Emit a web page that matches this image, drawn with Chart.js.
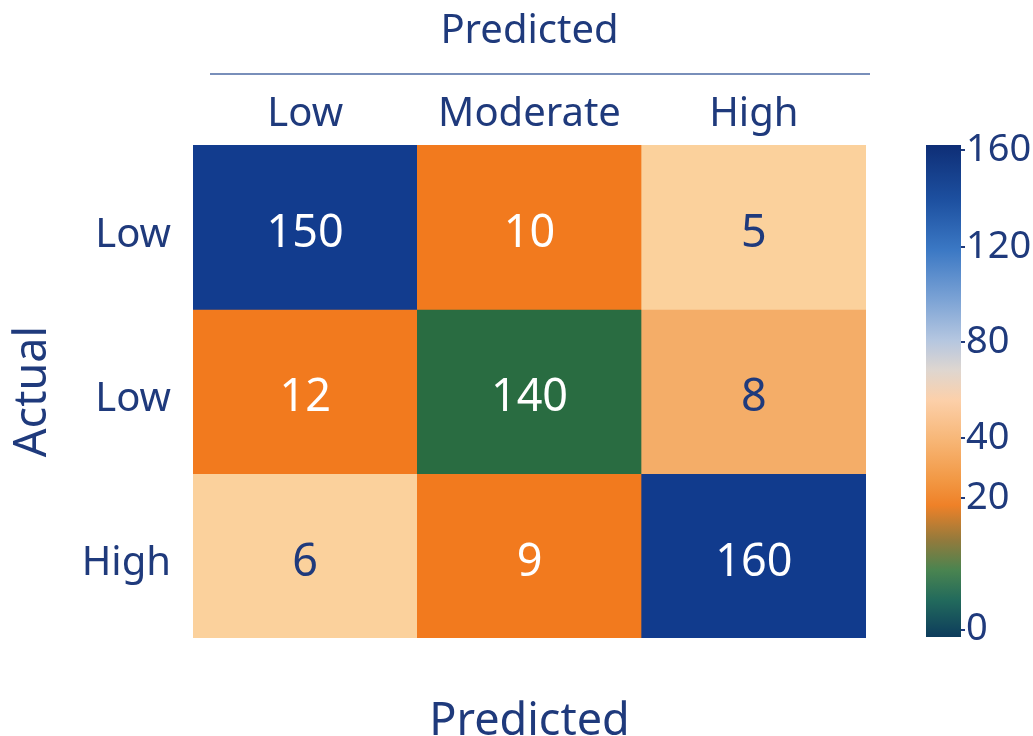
<!DOCTYPE html>
<html>
<head>
<meta charset="utf-8">
<script src="https://cdn.jsdelivr.net/npm/chart.js@4.4.1/dist/chart.umd.min.js"></script>
<style>
  html, body { margin: 0; padding: 0; background: #fff; }
  #wrap { position: relative; width: 1033px; height: 736px; }
  #main { position: absolute; left: 0; top: 0; }
  #cbar { position: absolute; left: 900px; top: 0; }
</style>
</head>
<body>
<div id="wrap">
  <canvas id="main" width="1033" height="736"></canvas>
  <canvas id="cbar" width="133" height="736"></canvas>
</div>
<script>
// confusion matrix data
const predictedLabels = ["Low", "Moderate", "High"];
const actualLabels = ["Low", "Low", "High"];
const row1 = [150, 10, 5];
const row2 = [12, 140, 8];
const row3 = [6, 9, 160];

// colorbar ticks
const cbarTicks = [0, 20, 40, 80, 120, 160];

// styles
const navy = "#1f3a7c";
const font = "'Noto Sans', 'Open Sans', sans-serif";
const cellColors = [
    ["#123c8e", "#f27a1e", "#fbd19c"],
    ["#f27a1e", "#296c41", "#f4ad68"],
    ["#fbd19c", "#f27a1e", "#113b8d"]
];
const darkText = [
    [false, false, true],
    [false, false, true],
    [true, false, false]
];
// where each colorbar tick sits along the bar (0 = bottom, 1 = top)
const cbarTickPos = [0.015, 0.283, 0.404, 0.6, 0.793, 0.99];
const cbarStops = [
    [0, "#0d3c5c"], [0.075, "#226a5c"], [0.136, "#4a8450"], [0.197, "#937a3c"],
    [0.268, "#ef8128"], [0.319, "#f29844"], [0.4, "#f7b676"], [0.482, "#fcd0aa"],
    [0.543, "#ded6d0"], [0.604, "#b4c6e0"], [0.685, "#7ca3d5"], [0.787, "#3b78c4"],
    [0.888, "#1d50a0"], [1, "#0e2e76"]
];

const rows = [row1, row2, row3];

const cellLabels = {
    id: "cellLabels",
    afterDatasetsDraw(chart) {
        const ctx = chart.ctx;
        ctx.save();
        ctx.font = "45px " + font;
        ctx.textAlign = "center";
        ctx.textBaseline = "middle";
        chart.data.datasets.forEach((ds, r) => {
            chart.getDatasetMeta(r).data.forEach((bar, c) => {
                const p = bar.getCenterPoint();
                ctx.fillStyle = darkText[r][c] ? navy : "#ffffff";
                ctx.fillText(String(rows[r][c]), p.x, p.y + 7);
            });
        });
        ctx.restore();
    }
};

const headerLine = {
    id: "headerLine",
    afterDraw(chart) {
        const ctx = chart.ctx;
        const y = chart.scales.x.top;
        ctx.save();
        ctx.strokeStyle = "#4d6aa3";
        ctx.lineWidth = 1.5;
        ctx.beginPath();
        ctx.moveTo(chart.chartArea.left + 17, y);
        ctx.lineTo(chart.chartArea.right + 4, y);
        ctx.stroke();
        ctx.restore();
    }
};

new Chart(document.getElementById("main"), {
    type: "bar",
    data: {
        labels: predictedLabels,
        datasets: rows.map((row, r) => ({
            label: actualLabels[r],
            data: row.map(() => 1),
            backgroundColor: cellColors[r],
            borderWidth: 0,
            barPercentage: 1,
            categoryPercentage: 1
        }))
    },
    options: {
        responsive: false,
        animation: false,
        layout: { padding: { left: 0, right: 167, top: 0, bottom: 0 } },
        plugins: {
            legend: { display: false },
            tooltip: { enabled: false },
            title: {
                display: true,
                fullSize: false,
                text: "Predicted",
                color: navy,
                font: { family: font, size: 40, weight: "normal", lineHeight: 1.2 },
                padding: { top: 8, bottom: 18 }
            },
            subtitle: {
                display: true,
                fullSize: false,
                position: "bottom",
                text: "Predicted",
                color: navy,
                font: { family: font, size: 45, weight: "normal", lineHeight: 0.6 },
                padding: { top: 71, bottom: 0 }
            }
        },
        scales: {
            x: {
                position: "top",
                stacked: true,
                grid: { display: false },
                border: { display: false },
                ticks: { color: navy, padding: -2, font: { family: font, size: 40 } },
                afterFit(scale) { scale.height = 145 - 74; }
            },
            y: {
                stacked: true,
                reverse: true,
                min: 0,
                max: 3,
                grid: { display: false },
                border: { display: false },
                afterBuildTicks(scale) {
                    scale.ticks = actualLabels.map((l, i) => ({ value: i + 0.5 }));
                },
                ticks: {
                    color: navy,
                    padding: 14,
                    labelOffset: 8,
                    font: { family: font, size: 40 },
                    callback: (v) => actualLabels[Math.floor(v)]
                },
                title: {
                    display: true,
                    text: "Actual",
                    color: navy,
                    font: { family: font, size: 45 },
                    padding: { top: 6, bottom: 0 }
                },
                afterFit(scale) { scale.width = 193; }
            }
        }
    },
    plugins: [cellLabels, headerLine]
});

// colorbar
new Chart(document.getElementById("cbar"), {
    type: "bar",
    data: {
        labels: [""],
        datasets: [{
            data: [[0, 1]],
            borderWidth: 0,
            barPercentage: 1,
            categoryPercentage: 1,
            backgroundColor(ctx) {
                const area = ctx.chart.chartArea;
                if (!area) return "#888";
                const g = ctx.chart.ctx.createLinearGradient(0, area.bottom, 0, area.top);
                cbarStops.forEach(s => g.addColorStop(s[0], s[1]));
                return g;
            }
        }]
    },
    options: {
        responsive: false,
        animation: false,
        layout: { padding: { left: 26, right: 0, top: 145, bottom: 99 } },
        plugins: { legend: { display: false }, tooltip: { enabled: false } },
        scales: {
            x: { display: false },
            y: {
                position: "right",
                min: 0,
                max: 1,
                border: { display: false },
                grid: { drawOnChartArea: false, tickLength: 4, color: navy, lineWidth: 2 },
                afterBuildTicks(scale) {
                    scale.ticks = cbarTickPos.map(p => ({ value: p }));
                },
                ticks: {
                    color: navy,
                    padding: 1,
                    font: { family: font, size: 38 },
                    callback: (v, i) => String(cbarTicks[i])
                },
                afterFit(scale) { scale.width = 72; }
            }
        }
    }
});
</script>
</body>
</html>
